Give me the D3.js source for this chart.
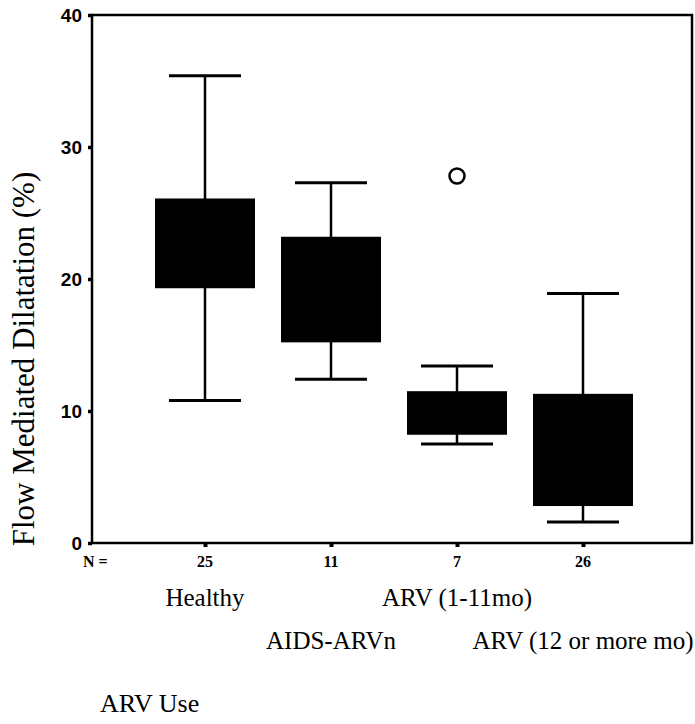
<!DOCTYPE html>
<meta charset="utf-8">
<style>
  body { margin: 0; background: #fff; }
  .tick-label { font-family: "Liberation Sans", Arial, sans-serif; font-weight: bold; font-size: 19px; }
  .serif { font-family: "Liberation Serif", "Times New Roman", serif; }
</style>
<body>
<script src="https://cdn.jsdelivr.net/npm/d3@7"></script>
<script>

// data
var groups = ['Healthy', 'AIDS-ARVn', 'ARV (1-11mo)', 'ARV (12 or more mo)'];
var nCounts = [25, 11, 7, 26];
var whiskerLow = [10.8, 12.4, 7.5, 1.6];
var q1 = [19.3, 15.2, 8.2, 2.8];
var q3 = [26.1, 23.2, 11.5, 11.3];
var whiskerHigh = [35.4, 27.3, 13.4, 18.9];
var outlierGroups = ['ARV (1-11mo)'];
var outlierValues = [27.8];
var yTicks = [0, 10, 20, 30, 40];

var width = 695, height = 724;
var plot = { left: 92, right: 692, top: 15, bottom: 543 };

var svg = d3.select('body').append('svg').attr('width', width).attr('height', height);

var y = d3.scaleLinear().domain([0, 40]).range([plot.bottom, plot.top]);
var x = d3.scalePoint().domain(groups).range([205, 583]);

var boxW = 100, capW = 72;

// frame
svg.append('rect')
  .attr('x', plot.left).attr('y', plot.top)
  .attr('width', plot.right - plot.left).attr('height', plot.bottom - plot.top)
  .attr('fill', 'none').attr('stroke', '#000').attr('stroke-width', 2.5);

// y axis ticks + labels
var yAxis = d3.axisLeft(y).tickValues(yTicks).tickSize(4).tickPadding(6);
var gy = svg.append('g').attr('transform', 'translate(' + plot.left + ',0)').call(yAxis);
gy.select('.domain').remove();
gy.selectAll('line').attr('stroke', '#000').attr('stroke-width', 3.5);
gy.selectAll('text').attr('class', 'tick-label').attr('fill', '#000').attr('font-size', null).attr('font-family', null);

// x ticks
var xAxis = d3.axisBottom(x).tickSize(4).tickFormat('');
var gx = svg.append('g').attr('transform', 'translate(0,' + plot.bottom + ')').call(xAxis);
gx.select('.domain').remove();
gx.selectAll('line').attr('stroke', '#000').attr('stroke-width', 4);

var rows = groups.map(function (g, i) {
  return { g: g, n: nCounts[i], lo: whiskerLow[i], q1: q1[i], q3: q3[i], hi: whiskerHigh[i] };
});

var box = svg.append('g').selectAll('g').data(rows).enter().append('g');

// whisker stems
box.append('line')
  .attr('x1', function (d) { return x(d.g); }).attr('x2', function (d) { return x(d.g); })
  .attr('y1', function (d) { return y(d.hi); }).attr('y2', function (d) { return y(d.lo); })
  .attr('stroke', '#000').attr('stroke-width', 2.5);

// caps
['hi', 'lo'].forEach(function (k) {
  box.append('line')
    .attr('x1', function (d) { return x(d.g) - capW / 2; }).attr('x2', function (d) { return x(d.g) + capW / 2; })
    .attr('y1', function (d) { return y(d[k]); }).attr('y2', function (d) { return y(d[k]); })
    .attr('stroke', '#000').attr('stroke-width', 3);
});

// boxes
box.append('rect')
  .attr('x', function (d) { return x(d.g) - boxW / 2; })
  .attr('y', function (d) { return y(d.q3); })
  .attr('width', boxW)
  .attr('height', function (d) { return y(d.q1) - y(d.q3); })
  .attr('fill', '#000');

// outliers
svg.append('g').selectAll('circle').data(outlierValues).enter().append('circle')
  .attr('cx', function (d, i) { return x(outlierGroups[i]); })
  .attr('cy', function (d) { return y(d); })
  .attr('r', 7.5)
  .attr('fill', 'none').attr('stroke', '#000').attr('stroke-width', 2.5);

// N row
svg.append('text').attr('class', 'serif').attr('x', 83).attr('y', 567)
  .attr('font-size', 16).attr('font-weight', 'bold').text('N =');
svg.append('g').selectAll('text').data(rows).enter().append('text')
  .attr('class', 'serif').attr('x', function (d) { return x(d.g); }).attr('y', 567)
  .attr('text-anchor', 'middle').attr('font-size', 16).attr('font-weight', 'bold')
  .text(function (d) { return d.n; });

// category labels, staggered on two rows
svg.append('g').selectAll('text').data(rows).enter().append('text')
  .attr('class', 'serif').attr('x', function (d) { return x(d.g); })
  .attr('y', function (d, i) { return i % 2 === 0 ? 606 : 649; })
  .attr('text-anchor', 'middle').attr('font-size', 25)
  .text(function (d) { return d.g; });

// axis titles
svg.append('text').attr('class', 'serif')
  .attr('transform', 'translate(34,359) rotate(-90)')
  .attr('text-anchor', 'middle').attr('font-size', 31)
  .text('Flow Mediated Dilatation (%)');

svg.append('text').attr('class', 'serif').attr('x', 100).attr('y', 712)
  .attr('font-size', 26).text('ARV Use');

</script>
</body>
</html>
